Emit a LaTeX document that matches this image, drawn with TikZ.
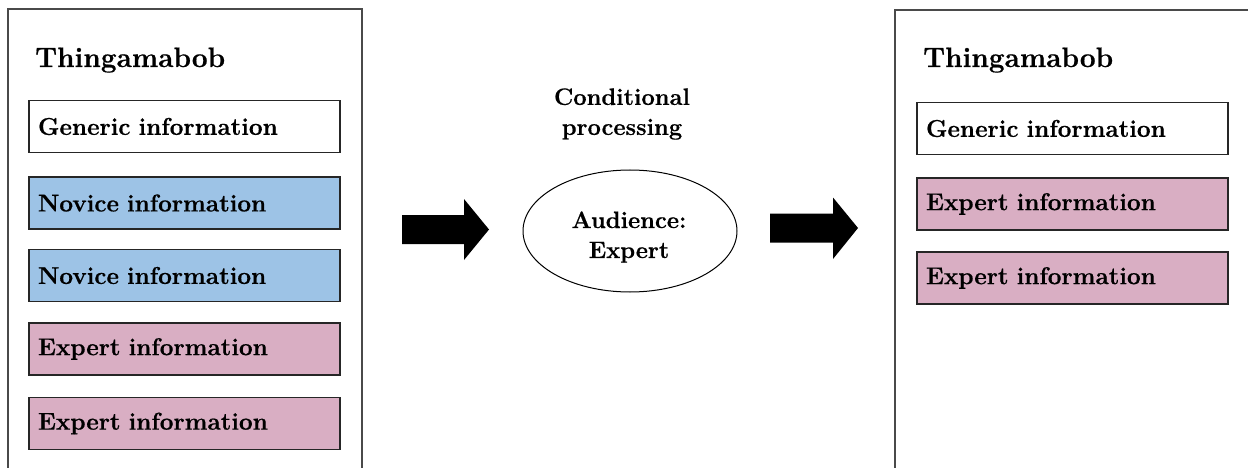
\documentclass[tikz,border=0pt]{standalone}
\usepackage{fontspec}
\setmainfont{Latin Modern Roman}[BoldFeatures={FakeBold=0.6}]
\usepackage{tikz}
\usetikzlibrary{shapes.geometric}
\definecolor{novice}{HTML}{9DC3E6}
\definecolor{expert}{HTML}{D9AEC3}
\definecolor{panel}{HTML}{4A4A4A}
\begin{document}
\begin{tikzpicture}[x=1pt,y=-1pt,
  infobox/.style={draw=black!85, line width=1.3pt, minimum width=311pt, minimum height=52pt,
    text width=293pt, inner xsep=9pt, inner ysep=0pt, align=left,
    font=\fontsize{24.3}{26}\selectfont\bfseries},
  title/.style={anchor=base west, inner sep=0pt, font=\fontsize{28}{30}\selectfont\bfseries},
  midtext/.style={align=center, inner sep=0pt, font=\fontsize{23.7}{30}\selectfont\bfseries},
  panelline/.style={draw=panel, line width=1.2pt},
  blockarrow/.style={fill=black}]
\useasboundingbox (0,0) rectangle (1248,468);
% left panel
\draw[panelline] (8,468) -- (8,9) -- (362,9) -- (362,468);
\node[title] (lt) at (35,67) {Thingamabob};
\node[infobox] (lg) at (184.5,126.5) {Generic information};
\node[infobox, fill=novice] (ln1) at (184.5,203) {Novice information};
\node[infobox, fill=novice] (ln2) at (184.5,275.5) {Novice information};
\node[infobox, fill=expert] (le1) at (184.5,349) {Expert information};
\node[infobox, fill=expert] (le2) at (184.5,423.5) {Expert information};
% middle
\node[midtext] (cp) at (622,114) {Conditional\\processing};
\node[draw=black, line width=1pt, ellipse, minimum width=214pt, minimum height=122pt] (aud) at (630,231) {};
\node[midtext] (audtxt) at (629,237) {Audience:\\Expert};
% arrows
\coordinate (a1) at (402,229.5);
\fill[blockarrow] (a1) ++(0,-14.5) -- ++(62,0) -- ++(0,-16) -- (489,229.5) -- (464,260) -- ++(0,-16) -- (402,244) -- cycle;
\coordinate (a2) at (770,228);
\fill[blockarrow] (a2) ++(0,-14.5) -- ++(63,0) -- ++(0,-16) -- (858,228) -- (833,259) -- ++(0,-16.5) -- (770,242.5) -- cycle;
% right panel
\draw[panelline] (895,468) -- (895,10) -- (1248,10);
\node[title] (rt) at (923,67) {Thingamabob};
\node[infobox] (rg) at (1072.5,128.5) {Generic information};
\node[infobox, fill=expert] (re1) at (1072.5,204) {Expert information};
\node[infobox, fill=expert] (re2) at (1072.5,278) {Expert information};
\end{tikzpicture}
\end{document}
